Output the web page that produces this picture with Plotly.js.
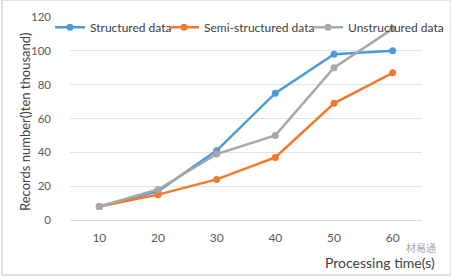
<!DOCTYPE html>
<html><head><meta charset="utf-8">
<script src="https://cdn.plot.ly/plotly-3.0.1.min.js"></script>
<style>html,body{margin:0;padding:0;background:#fff}#chart{width:451px;height:278px}</style>
</head><body><div id="chart"></div>
<script>
var categories = ["10", "20", "30", "40", "50", "60"];
var structured = [8, 17, 41, 75, 98, 100];
var semiStructured = [8, 15, 24, 37, 69, 87];
var unstructured = [8, 18, 39, 50, 90, 113];
var yTicks = [0, 20, 40, 60, 80, 100, 120];
var seriesNames = ['Structured data', 'Semi-structured data', 'Unstructured data'];

function tr(name, y, color, lg) {
  return {x: categories, y: y, name: name, type: 'scatter', mode: 'lines+markers', legend: lg,
    line: {color: color, width: 2.5}, marker: {color: color, size: 7}};
}
var data = [
  tr(seriesNames[0], structured, '#4a9bd6', 'legend'),
  tr(seriesNames[1], semiStructured, '#f07a2e', 'legend2'),
  tr(seriesNames[2], unstructured, '#a8a8a8', 'legend3')
];
function lg(leftPx) {
  return {orientation: 'h', x: (leftPx - 70) / 352, xanchor: 'left', y: 0.95, yanchor: 'middle',
    font: {size: 12, color: '#404040', family: 'Lato, sans-serif'}, bgcolor: 'rgba(0,0,0,0)',
    itemwidth: 30, borderwidth: 0};
}
var layout = {
  width: 451, height: 278,
  margin: {l: 70, r: 29, t: 17, b: 58, autoexpand: false},
  font: {family: 'Lato, "Open Sans", sans-serif', size: 12, color: '#595959'},
  paper_bgcolor: '#fff', plot_bgcolor: '#fff',
  showlegend: true,
  legend: lg(50), legend2: lg(164), legend3: lg(308),
  xaxis: {type: 'category', range: [-0.5, 5.5], showgrid: false, zeroline: false, automargin: false,
    showline: false, ticks: '', tickfont: {size: 12, color: '#595959'}, ticklabelstandoff: 9},
  yaxis: {range: [0, 120], tickvals: yTicks, showgrid: true, gridcolor: '#e3e3e3', gridwidth: 1,
    zeroline: true, zerolinecolor: '#d9d9d9', showline: false, ticks: '', automargin: false,
    tickfont: {size: 11.5, color: '#595959'}, ticklabelstandoff: 18},
  annotations: [
    {xref: 'paper', yref: 'paper', x: (25 - 70) / 352, y: (220 - 122) / 203, xanchor: 'center', yanchor: 'middle',
      textangle: -90, text: 'Records number()ten thousand)', showarrow: false, font: {size: 13, color: '#404040'}},
    {xref: 'paper', yref: 'paper', x: (437 - 70) / 352, y: -(262 - 220) / 203, xanchor: 'right', yanchor: 'middle',
      text: 'Processing time(s)', showarrow: false, font: {size: 14, color: '#404040'}},
    {xref: 'paper', yref: 'paper', x: (438 - 70) / 352, y: -(247 - 220) / 203, xanchor: 'right', yanchor: 'middle',
      text: '材易通', showarrow: false, font: {size: 10, color: 'rgba(120,120,120,0.7)', family: '"Noto Sans CJK SC", sans-serif'}}
  ],
  shapes: [{type: 'rect', xref: 'paper', yref: 'paper', x0: (2 - 70) / 352, x1: (451 - 70) / 352,
    y0: -(275 - 220) / 203, y1: (220 - 0) / 203, line: {color: '#d6d6d6', width: 1.5}}]
};
Plotly.newPlot('chart', data, layout, {displayModeBar: false, staticPlot: true});
</script></body></html>
